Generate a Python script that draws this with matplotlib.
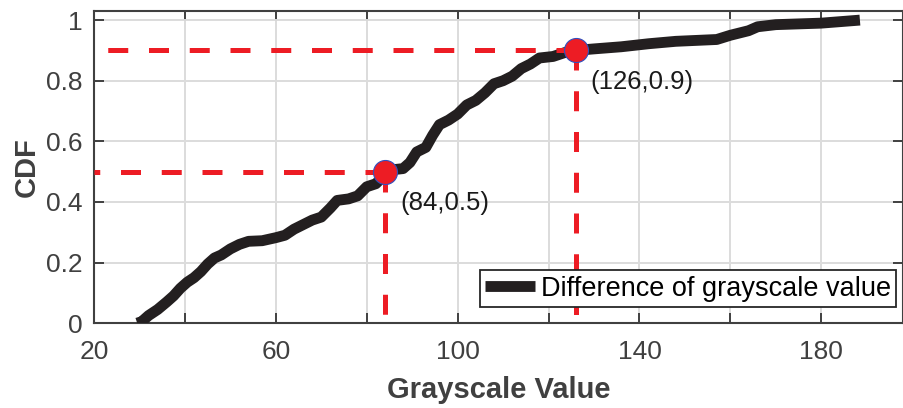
import numpy as np
import matplotlib.pyplot as plt

plt.rcParams['font.family'] = ['Liberation Sans', 'DejaVu Sans']

# empirical CDF of the grayscale difference
gray = [29.5, 30.5, 32, 34, 36, 37.5, 39, 40.5, 42, 43.5, 45, 46.5, 48, 50,
        52, 54, 57, 60, 62, 64, 66, 68, 70, 72, 73.5, 76, 78, 80, 82, 83,
        85, 88, 89.5, 91, 93, 94.5, 96, 98, 100, 102, 104, 106, 108, 110,
        112, 114, 116, 118, 121, 124, 126, 130, 136, 142, 148, 157, 160,
        164, 166, 170, 180, 188.5]
cdf = [0.0, 0.005, 0.025, 0.045, 0.07, 0.09, 0.115, 0.135, 0.15, 0.17,
       0.195, 0.215, 0.225, 0.245, 0.26, 0.27, 0.272, 0.282, 0.29, 0.31,
       0.325, 0.34, 0.35, 0.38, 0.405, 0.41, 0.42, 0.45, 0.46, 0.475,
       0.505, 0.51, 0.53, 0.565, 0.58, 0.62, 0.655, 0.67, 0.69, 0.72,
       0.735, 0.76, 0.79, 0.8, 0.815, 0.84, 0.855, 0.875, 0.88, 0.895,
       0.9, 0.905, 0.912, 0.922, 0.93, 0.936, 0.95, 0.965, 0.978, 0.985,
       0.99, 1.0]

# marked points (median and 90th percentile)
mark_x = [84, 126]
mark_y = [0.5, 0.9]

xticks = [20, 40, 60, 80, 100, 120, 140, 160, 180]
xlabels = ['20', '', '60', '', '100', '', '140', '', '180']
yticks = [0, 0.2, 0.4, 0.6, 0.8, 1]
ylabels = ['0', '0.2', '0.4', '0.6', '0.8', '1']

axcol = '#404040'
red = '#ED1C24'

fig = plt.figure(figsize=(9.04, 4.08), dpi=100)
ax = fig.add_axes([0.104, 0.208, 0.895, 0.765])

ax.set_xlim(20, 198)
ax.set_ylim(0, 1.03)

ax.plot(gray, cdf, color='#231F20', lw=7.8, solid_joinstyle='round',
        solid_capstyle='butt', label='Difference of grayscale value', zorder=3)

for mx, my in zip(mark_x, mark_y):
    # dashed guides drawn outward from the point
    ax.plot([mx, 20], [my, my], color=red, lw=3.6, dashes=(4.0, 4.15), zorder=4)
    ax.plot([mx, mx], [my, 0], color=red, lw=3.6, dashes=(4.0, 4.15), zorder=4)
    ax.plot(mx, my, 'o', ms=17.3, mfc=red, mec='#3050C0', mew=0.8, zorder=5)
    ax.text(mx + 3.3, my - 0.105, '(%g,%g)' % (mx, my), fontsize=18.5,
            color='#1A1A1A', ha='left', va='center', zorder=6)

ax.set_xticks(xticks)
ax.set_xticklabels(xlabels)
ax.set_yticks(yticks)
ax.set_yticklabels(ylabels)
ax.tick_params(direction='in', length=7, width=1.4, colors=axcol,
               labelsize=19, top=True, right=True)
ax.tick_params(axis='x', pad=12)
ax.tick_params(axis='y', pad=8)
for s in ax.spines.values():
    s.set_color(axcol)
    s.set_linewidth(1.5)

ax.grid(True, color='#DCDCDC', lw=1.4)
ax.set_axisbelow(True)

ax.set_xlabel('Grayscale Value', fontsize=21, fontweight='bold', color=axcol,
              labelpad=9)
ax.set_ylabel('CDF', fontsize=21, fontweight='bold', color=axcol, labelpad=4)

leg = ax.legend(loc='lower right', bbox_to_anchor=(0.9913, 0.0513),
                borderaxespad=0, fontsize=19.5, handlelength=1.85,
                handletextpad=0.2, borderpad=0.2, fancybox=False,
                framealpha=1)
leg.get_frame().set_edgecolor('#262626')
leg.get_frame().set_linewidth(1.3)

fig.savefig('out.png', dpi=100)
